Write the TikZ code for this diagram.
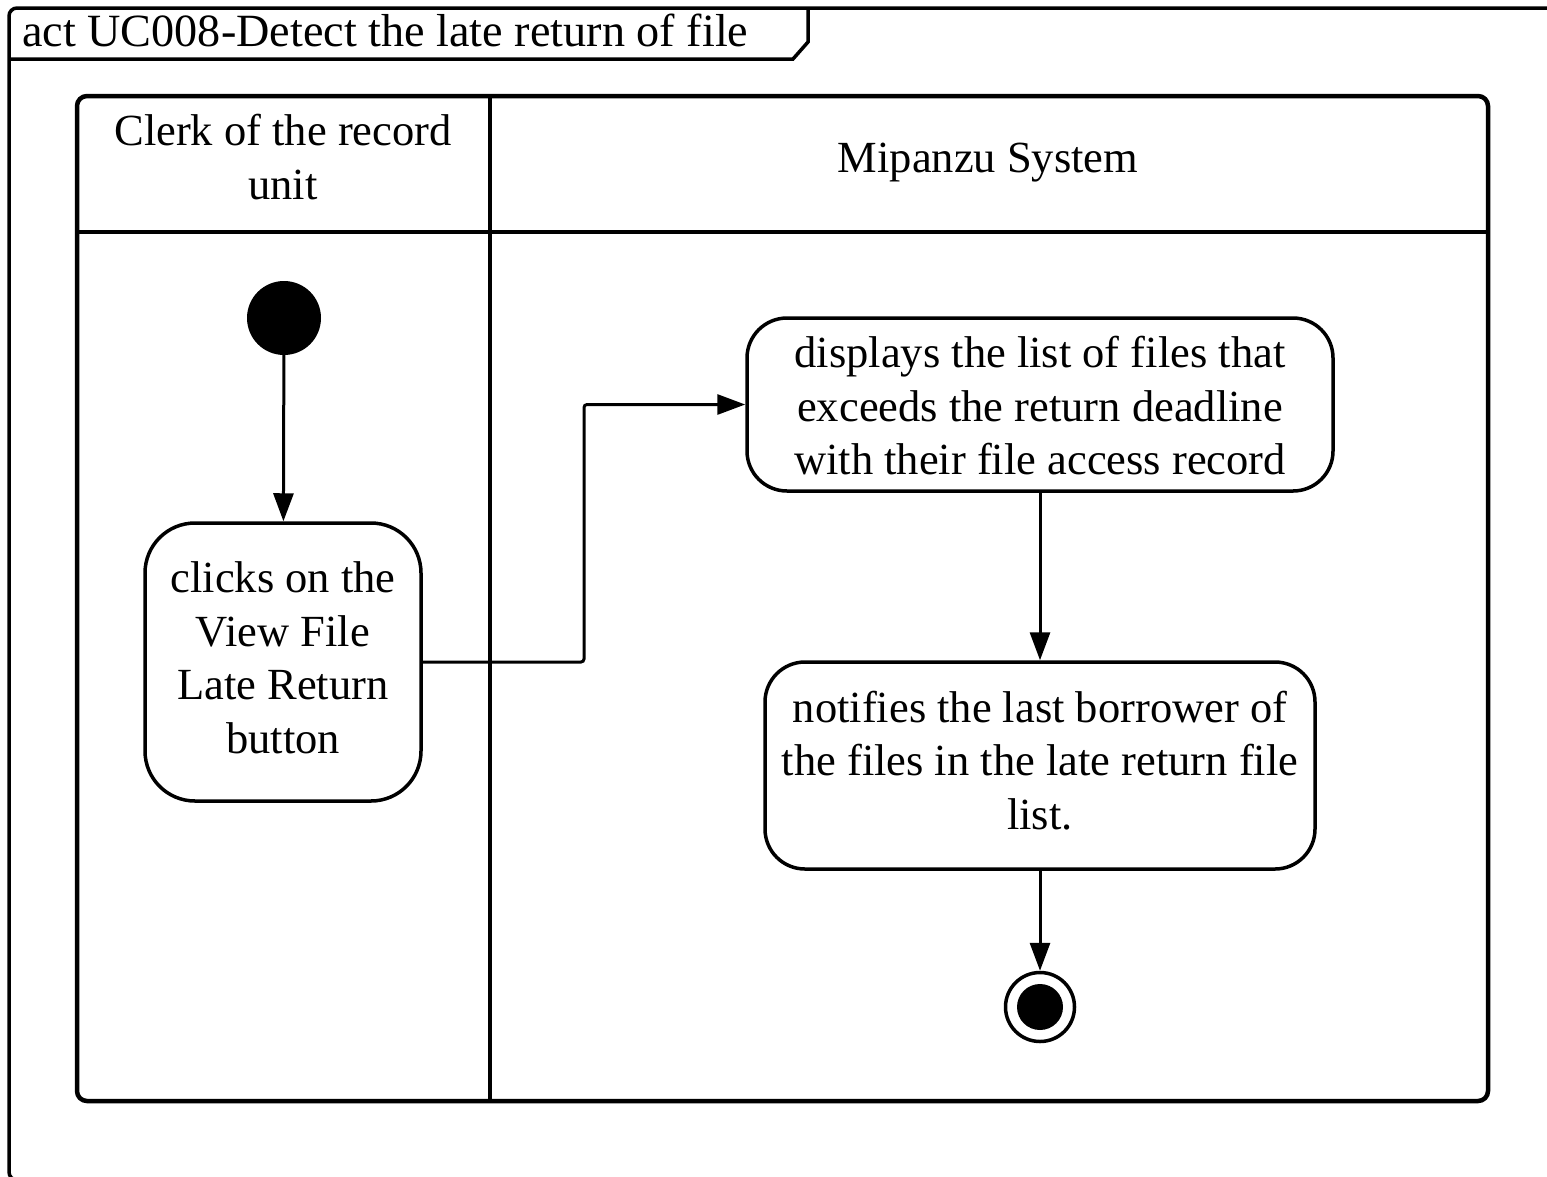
\documentclass[tikz,border=0pt]{standalone}
\usepackage{fontspec}
\setmainfont{Liberation Serif}
\usetikzlibrary{arrows.meta}

\begin{document}
\begin{tikzpicture}[x=1pt,y=-1pt,
  txt/.style={font=\fontsize{44.5}{53.5}\selectfont, align=center, inner sep=0pt},
  lane/.style={line width=4.5pt},
  frameline/.style={line width=3.5pt},
  action/.style={draw, line width=3.5pt},
  flow/.style={line width=3pt, -{Triangle[length=28pt,width=20pt]}},
  startnode/.style={circle, fill=black, minimum size=74pt, inner sep=0pt},
  endnode/.style={circle, draw, line width=3.5pt, minimum size=69pt, inner sep=0pt},
]
\useasboundingbox (0,0) rectangle (1547,1176);

% activity frame with its name tab
\draw[frameline, rounded corners=8pt] (1570,8) -- (9,8) -- (9,1180) -- (1570,1180);
\draw[frameline] (9,59) -- (793,59) -- (808,42) -- (808,8);
\node[txt, font=\fontsize{46.2}{54}\selectfont, anchor=base west] (title) at (22,46) {act UC008-Detect the late return of file};

% swimlanes
\draw[lane, rounded corners=10pt] (77,96) rectangle (1488,1101);
\draw[lane] (77,232) -- (1488,232);
\draw[lane] (490,96) -- (490,1101);
\node[txt] (laneA) at (283,157) {Clerk of the record\\unit};
\node[txt] (laneB) at (988,163) {Mipanzu System};

% activity nodes: outlines first, then their texts
\node[startnode] (start) at (284,318) {};
\node[action, minimum width=276pt, minimum height=278pt, rounded corners=50pt] (click) at (283,662) {};
\node[txt] (clicktext) at (283,658) {clicks on the\\View File\\Late Return\\button};
\node[action, minimum width=586pt, minimum height=173pt, rounded corners=40pt] (show) at (1040,404.5) {};
\node[txt] (showtext) at (1040,406) {displays the list of files that\\exceeds the return deadline\\with their file access record};
\node[action, minimum width=550pt, minimum height=207pt, rounded corners=40pt] (notify) at (1040,765.5) {};
\node[txt] (notifytext) at (1040,760.5) {notifies the last borrower of\\the files in the late return file\\list.};
\node[endnode] (finish) at (1040,1007) {};
\fill (finish.center) circle (23pt);

% control flows
\coordinate (bend) at (584,405);
\draw[flow] (start) -- (click);
\draw[flow, rounded corners=3pt] (click.east) -- (click.east -| bend) |- (show.west);
\draw[flow] (show) -- (notify);
\draw[flow] (notify) -- (finish);
\end{tikzpicture}
\end{document}
